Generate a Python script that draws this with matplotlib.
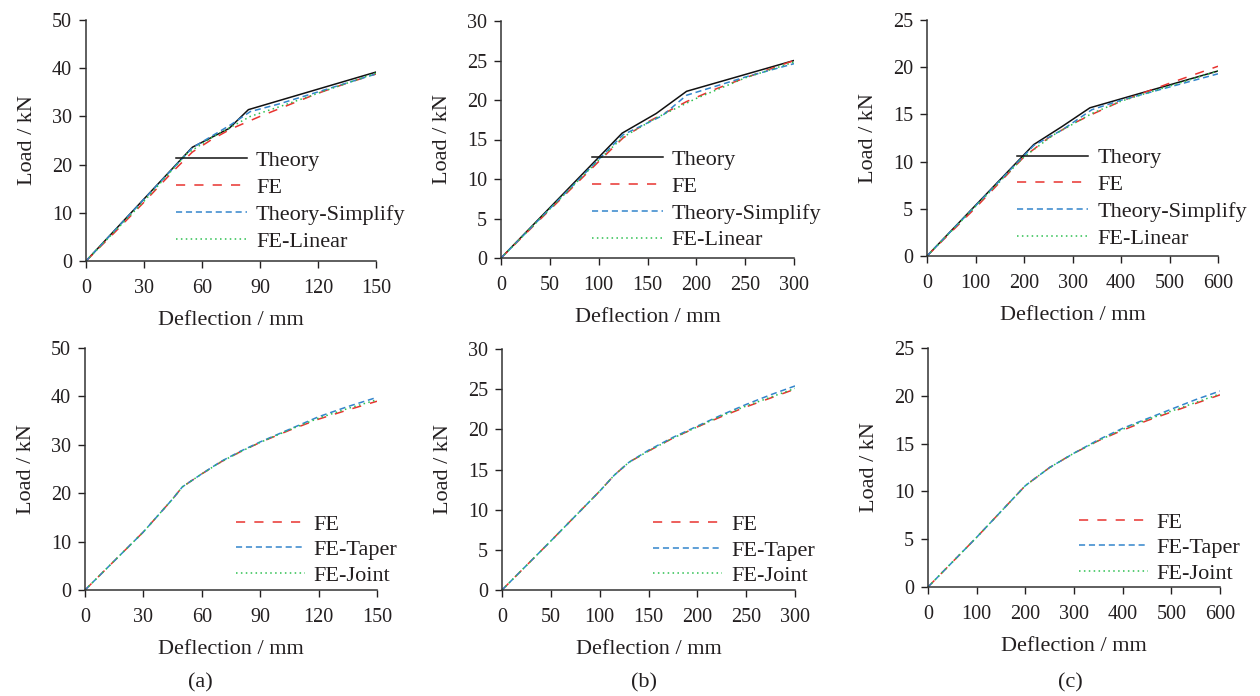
import matplotlib
matplotlib.use("Agg")
from matplotlib import pyplot as plt

# ---- data ----
# (a) top: span 1
a_theory_x = [0, 55, 74, 84, 150]
a_theory_y = [0, 23.6, 27.5, 31.4, 39.2]
a_fe_x = [0, 15, 30, 45, 55, 65, 75, 90, 105, 120, 135, 150]
a_fe_y = [0, 6.0, 12.2, 18.6, 22.6, 25.2, 27.4, 30.0, 32.4, 34.8, 36.9, 38.8]
a_simp_x = [0, 55, 75, 85, 100, 150]
a_simp_y = [0, 23.5, 28.3, 31.0, 32.6, 38.8]
a_lin_x = [0, 30, 52, 65, 85, 100, 150]
a_lin_y = [0, 12.4, 22.2, 25.6, 30.0, 32.0, 39.0]

# (b) top
b_theory_x = [0, 124, 159, 190, 300]
b_theory_y = [0, 15.8, 18.3, 21.1, 25.0]
b_fe_x = [0, 50, 100, 125, 150, 190, 220, 250, 300]
b_fe_y = [0, 6.1, 12.2, 15.2, 17.2, 19.8, 21.4, 22.8, 25.0]
b_simp_x = [0, 125, 165, 190, 250, 300]
b_simp_y = [0, 15.6, 18.0, 20.6, 22.9, 24.6]
b_lin_x = [0, 100, 125, 160, 200, 250, 300]
b_lin_y = [0, 12.4, 15.3, 17.8, 20.2, 22.8, 24.8]

# (c) top
c_theory_x = [0, 220, 278, 336, 600]
c_theory_y = [0, 11.8, 13.7, 15.7, 19.6]
c_fe_x = [0, 100, 200, 250, 300, 340, 400, 500, 600]
c_fe_y = [0, 5.1, 10.5, 12.5, 14.0, 15.0, 16.4, 18.3, 20.1]
c_simp_x = [0, 220, 280, 340, 400, 600]
c_simp_y = [0, 11.7, 13.4, 15.5, 16.5, 19.3]
c_lin_x = [0, 200, 260, 340, 400, 600]
c_lin_y = [0, 10.5, 12.8, 15.1, 16.4, 19.6]

# (a) bottom
d_x = [0, 15, 30, 45, 50, 60, 70, 80, 90, 105, 120, 135, 150]
d_fe = [0, 6.0, 12.0, 18.8, 21.3, 24.0, 26.5, 28.6, 30.5, 33.0, 35.3, 37.2, 39.0]
d_taper = [0, 6.0, 12.0, 18.8, 21.3, 24.0, 26.6, 28.7, 30.6, 33.2, 35.8, 37.9, 39.8]
d_joint = [0, 6.0, 12.0, 18.8, 21.3, 24.0, 26.5, 28.6, 30.5, 33.1, 35.5, 37.5, 39.3]

# (b) bottom
e_x = [0, 50, 100, 115, 130, 150, 175, 200, 225, 250, 275, 300]
e_fe = [0, 6.1, 12.3, 14.3, 15.9, 17.3, 18.9, 20.3, 21.6, 22.8, 23.9, 25.0]
e_taper = [0, 6.1, 12.3, 14.3, 15.9, 17.4, 19.0, 20.4, 21.8, 23.1, 24.3, 25.4]
e_joint = [0, 6.1, 12.3, 14.3, 15.9, 17.3, 18.9, 20.3, 21.7, 22.9, 24.0, 25.1]

# (c) bottom
f_x = [0, 100, 200, 250, 300, 350, 400, 450, 500, 550, 600]
f_fe = [0, 5.2, 10.6, 12.5, 14.0, 15.3, 16.4, 17.4, 18.3, 19.2, 20.1]
f_taper = [0, 5.2, 10.6, 12.5, 14.0, 15.4, 16.6, 17.6, 18.6, 19.6, 20.5]
f_joint = [0, 5.2, 10.6, 12.5, 14.0, 15.3, 16.5, 17.5, 18.4, 19.3, 20.2]

x_lims = [150, 300, 600]
x_steps = [30, 50, 100]
y_lims = [50, 30, 25]
y_steps = [10, 5, 5]
panel_tags = ["(a)", "(b)", "(c)"]

# ---- style ----
W, H = 1260, 696
text_color = '#231f20'
red = '#e8332f'
blue = '#3385cc'
green = '#2cc050'
black = '#111111'

plt.rcParams['font.family'] = ['Liberation Serif', 'DejaVu Serif']
plt.rcParams['text.color'] = text_color
plt.rcParams['axes.labelcolor'] = text_color
plt.rcParams['xtick.color'] = text_color
plt.rcParams['ytick.color'] = text_color

fig = plt.figure(figsize=(W / 100, H / 100), dpi=100)


def px_axes(left, right, top, bottom):
    # axes rectangle given in pixels of the reference
    return fig.add_axes([left / W, 1 - bottom / H, (right - left) / W, (bottom - top) / H])


top_boxes = [(86, 376, 20, 261), (501, 794, 21, 258), (927, 1218, 20, 256)]
bot_boxes = [(85, 377, 348, 590), (502, 795, 349, 590), (928, 1220, 348, 587)]

top_data = [
    (a_theory_x, a_theory_y, a_fe_x, a_fe_y, a_simp_x, a_simp_y, a_lin_x, a_lin_y),
    (b_theory_x, b_theory_y, b_fe_x, b_fe_y, b_simp_x, b_simp_y, b_lin_x, b_lin_y),
    (c_theory_x, c_theory_y, c_fe_x, c_fe_y, c_simp_x, c_simp_y, c_lin_x, c_lin_y),
]
bot_data = [(d_x, d_fe, d_taper, d_joint), (e_x, e_fe, e_taper, e_joint), (f_x, f_fe, f_taper, f_joint)]

red_dash = (6, 6)
blue_dash = (4, 2.5)
green_dot = (1, 2.2)


def style_axes(ax, i):
    ax.set_xlim(0, x_lims[i])
    ax.set_ylim(0, y_lims[i])
    ax.set_xticks(range(0, x_lims[i] + 1, x_steps[i]))
    ax.set_yticks(range(0, y_lims[i] + 1, y_steps[i]))
    for s in ['top', 'right']:
        ax.spines[s].set_visible(False)
    for s in ['left', 'bottom']:
        ax.spines[s].set_color('#333333')
        ax.spines[s].set_linewidth(1.1)
    ax.tick_params(direction='out', length=5, width=1.0, labelsize=14.5, colors=text_color)
    ax.tick_params(axis='x', pad=8)
    ax.tick_params(axis='y', pad=5)
    ax.set_xlabel('Deflection / mm', fontsize=16, labelpad=9)
    ax.set_ylabel('Load / kN', fontsize=16, labelpad=11)
    ax.patch.set_alpha(0)


for i in range(3):
    ax = px_axes(*top_boxes[i])
    tx, ty, fx, fy, sx, sy, lx, ly = top_data[i]
    ax.plot(tx, ty, color=black, lw=1.1, label='Theory')
    ax.plot(fx, fy, color=red, lw=1.1, dashes=red_dash, label='FE')
    ax.plot(sx, sy, color=blue, lw=1.1, dashes=blue_dash, label='Theory-Simplify')
    ax.plot(lx, ly, color=green, lw=1.1, dashes=green_dot, label='FE-Linear')
    style_axes(ax, i)
    ax.legend(loc='upper left', bbox_to_anchor=(0.31, 0.458), frameon=False, fontsize=16,
              handlelength=3.2, handletextpad=0.4, labelspacing=0.28, borderpad=0, borderaxespad=0)

for i in range(3):
    ax = px_axes(*bot_boxes[i])
    x, fe, tp, jt = bot_data[i]
    ax.plot(x, fe, color=red, lw=1.1, dashes=red_dash, label='FE')
    ax.plot(x, tp, color=blue, lw=1.1, dashes=blue_dash, label='FE-Taper')
    ax.plot(x, jt, color=green, lw=1.1, dashes=green_dot, label='FE-Joint')
    style_axes(ax, i)
    ax.legend(loc='upper left', bbox_to_anchor=(0.517, 0.313), frameon=False, fontsize=16,
              handlelength=3.1, handletextpad=0.4, labelspacing=0.22, borderpad=0, borderaxespad=0)

for i, xc in enumerate([200, 644, 1070]):
    fig.text(xc / W, 1 - 683 / H, panel_tags[i], fontsize=16, ha='center', va='center')

fig.savefig('out.png', dpi=100, facecolor='white')
